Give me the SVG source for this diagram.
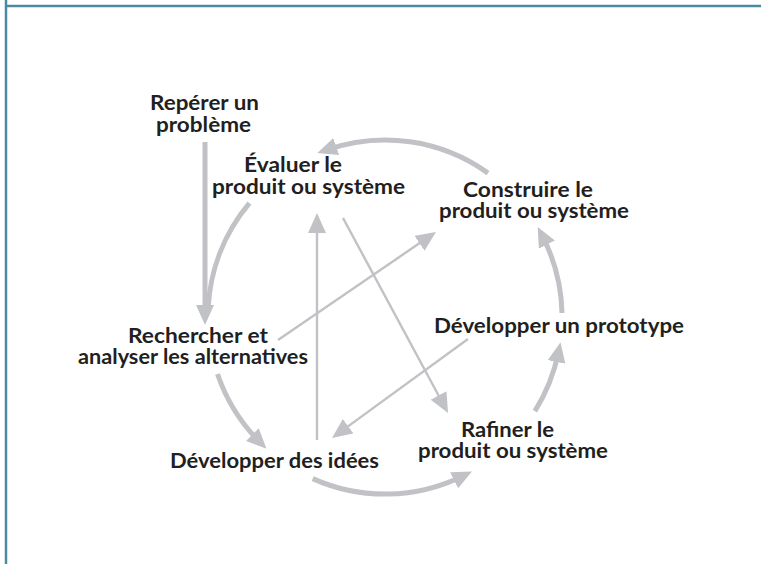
<svg xmlns="http://www.w3.org/2000/svg" width="761" height="564" viewBox="0 0 761 564">
<style>
.lbl{font-family:Lato,"Liberation Sans",sans-serif;font-weight:700;font-size:20px;fill:#231f20}
.thick{fill:none;stroke:#c1c2c5;stroke-width:5}
.thin{fill:none;stroke:#c1c2c5;stroke-width:2.4}
.frame{stroke:#4b8ba1;stroke-width:2.5;fill:none}
</style>
<defs>
<marker id="ah" viewBox="0 0 20 18" refX="10" refY="9" markerWidth="20" markerHeight="18" markerUnits="userSpaceOnUse" orient="auto">
<path d="M0,0 L20,9 L0,18 z" fill="#c1c2c5"/>
</marker>
</defs>
<rect width="761" height="564" fill="#ffffff"/>
<g id="frame">
<line class="frame" x1="6" y1="0" x2="6" y2="564"/>
<line class="frame" x1="5" y1="6" x2="761" y2="6"/>
</g>
<g id="connectors">
<line class="thick" x1="205" y1="142" x2="205" y2="315" marker-end="url(#ah)"/>
<path class="thick" d="M249.4,203.2 A177,177 0 0 0 208.2,307.7"/>
<path class="thick" d="M217.5,374 A177,177 0 0 0 259.4,441.7" marker-end="url(#ah)"/>
<path class="thick" d="M312.7,478.6 A177,177 0 0 0 463,475.9" marker-end="url(#ah)"/>
<path class="thick" d="M534.9,411.1 A177,177 0 0 0 558.5,352.1" marker-end="url(#ah)"/>
<path class="thick" d="M562,313 A177,177 0 0 0 542.3,235.8" marker-end="url(#ah)"/>
<path class="thick" d="M488,173.1 A177,177 0 0 0 326.8,149.8" marker-end="url(#ah)"/>
<line class="thin" x1="278" y1="340" x2="427.7" y2="237.6" marker-end="url(#ah)"/>
<line class="thin" x1="317" y1="440" x2="317" y2="223" marker-end="url(#ah)"/>
<line class="thin" x1="343" y1="218" x2="443.3" y2="404.2" marker-end="url(#ah)"/>
<line class="thin" x1="468" y1="339" x2="340.1" y2="432.1" marker-end="url(#ah)"/>
</g>
<g id="reperer">
<text class="lbl" x="150" y="110" textLength="109" lengthAdjust="spacingAndGlyphs">Repérer un</text>
<text class="lbl" x="156" y="132" textLength="95" lengthAdjust="spacingAndGlyphs">problème</text>
</g>
<g id="evaluer">
<text class="lbl" x="244" y="172" textLength="98" lengthAdjust="spacingAndGlyphs">Évaluer le</text>
<text class="lbl" x="212" y="194" textLength="193" lengthAdjust="spacingAndGlyphs">produit ou système</text>
</g>
<g id="construire">
<text class="lbl" x="463" y="197" textLength="130" lengthAdjust="spacingAndGlyphs">Construire le</text>
<text class="lbl" x="439" y="218" textLength="190" lengthAdjust="spacingAndGlyphs">produit ou système</text>
</g>
<g id="prototype">
<text class="lbl" x="434" y="333" textLength="250" lengthAdjust="spacingAndGlyphs">Développer un prototype</text>
</g>
<g id="rafiner">
<text class="lbl" x="461" y="437" textLength="93" lengthAdjust="spacingAndGlyphs">Rafiner le</text>
<text class="lbl" x="418" y="458" textLength="190" lengthAdjust="spacingAndGlyphs">produit ou système</text>
</g>
<g id="rechercher">
<text class="lbl" x="128" y="343" textLength="140" lengthAdjust="spacingAndGlyphs">Rechercher et</text>
<text class="lbl" x="78" y="364" textLength="230" lengthAdjust="spacingAndGlyphs">analyser les alternatives</text>
</g>
<g id="idees">
<text class="lbl" x="170" y="468" textLength="209" lengthAdjust="spacingAndGlyphs">Développer des idées</text>
</g>
</svg>
